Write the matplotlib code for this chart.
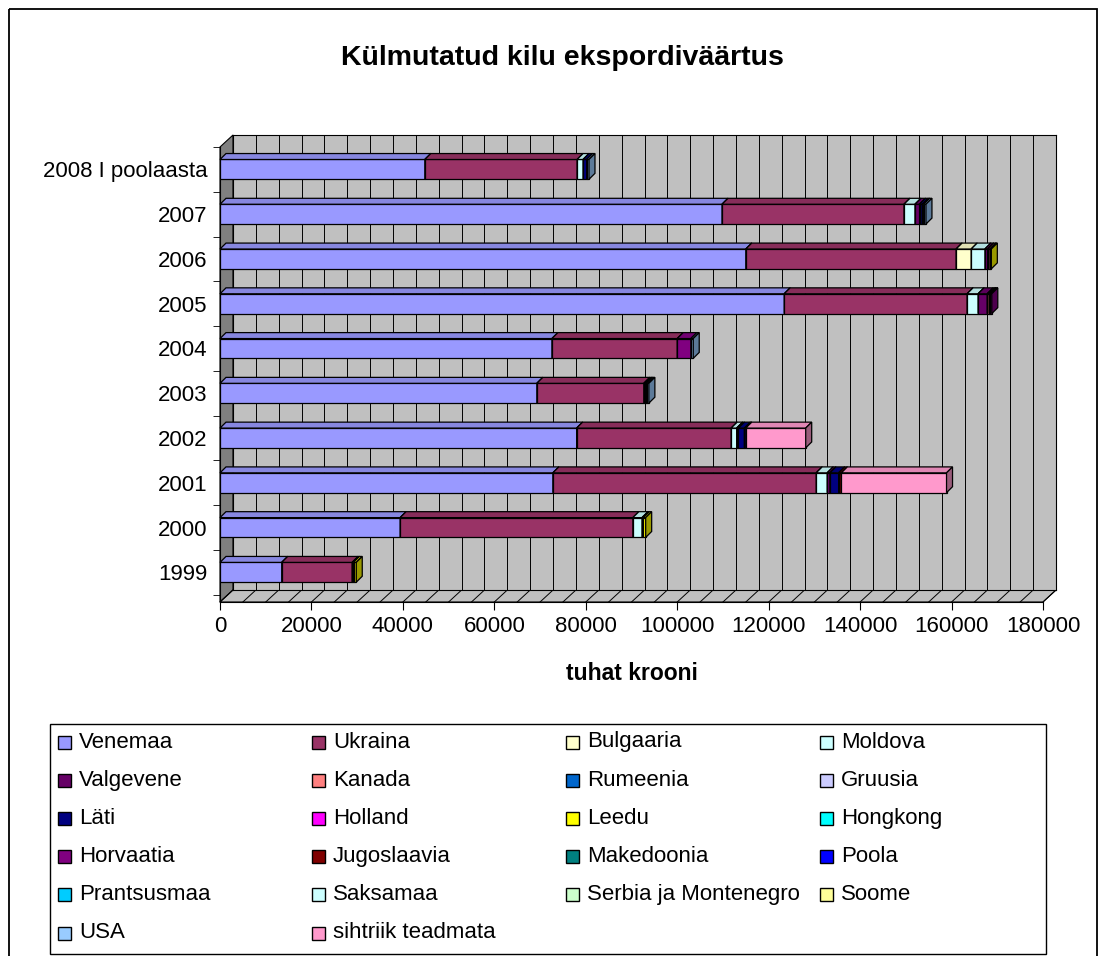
import matplotlib
matplotlib.use('Agg')
import matplotlib.pyplot as plt
from matplotlib.patches import Polygon, Rectangle
from matplotlib.lines import Line2D
import matplotlib.colors as mcolors
import numpy as np

plt.rcParams['font.family'] = ['Liberation Sans', 'DejaVu Sans']

# ---------------- data ----------------
categories = ['1999', '2000', '2001', '2002', '2003', '2004', '2005', '2006', '2007', '2008 I poolaasta']

countries = ['Venemaa', 'Ukraina', 'Bulgaaria', 'Moldova', 'Valgevene', 'Kanada', 'Rumeenia',
             'Gruusia', 'Läti', 'Holland', 'Leedu', 'Hongkong', 'Horvaatia', 'Jugoslaavia',
             'Makedoonia', 'Poola', 'Prantsusmaa', 'Saksamaa', 'Serbia ja Montenegro', 'Soome',
             'USA', 'sihtriik teadmata']

country_colors = ['#9999FF', '#993366', '#FFFFCC', '#CCFFFF', '#660066', '#FF8080', '#0066CC',
                  '#CCCCFF', '#000080', '#FF00FF', '#FFFF00', '#00FFFF', '#800080', '#800000',
                  '#008080', '#0000FF', '#00CCFF', '#CCFFFF', '#CCFFCC', '#FFFF99',
                  '#99CCFF', '#FF99CC']

Venemaa = [13500, 39400, 72800, 78000, 69300, 72600, 123400, 115000, 109800, 44800]
Ukraina = [15400, 50900, 57600, 33800, 23400, 27400, 40000, 46000, 39800, 33300]
Bulgaaria = [0, 0, 0, 0, 0, 0, 0, 3300, 0, 0]
Moldova = [0, 2000, 2400, 1200, 0, 0, 2400, 3000, 2400, 1300]
Valgevene = [300, 300, 600, 400, 0, 0, 2000, 600, 1000, 0]
Kanada = [0, 0, 0, 0, 0, 0, 400, 500, 0, 0]
Rumeenia = [0, 0, 0, 0, 0, 0, 0, 0, 0, 0]
Gruusia = [0, 0, 0, 0, 0, 0, 0, 0, 0, 0]
Lati = [0, 0, 1900, 1300, 400, 0, 300, 0, 600, 800]
Holland = [0, 0, 0, 0, 0, 0, 0, 0, 0, 0]
Leedu = [600, 500, 0, 0, 0, 0, 0, 300, 0, 0]
Hongkong = [0, 0, 0, 0, 0, 0, 0, 0, 0, 0]
Horvaatia = [0, 0, 0, 0, 0, 3000, 300, 0, 0, 0]
Jugoslaavia = [0, 0, 600, 0, 0, 0, 0, 0, 0, 0]
Makedoonia = [0, 0, 0, 0, 0, 0, 0, 0, 0, 0]
Poola = [0, 0, 0, 300, 300, 0, 0, 0, 300, 0]
Prantsusmaa = [0, 0, 0, 0, 0, 0, 0, 0, 0, 0]
Saksamaa = [0, 0, 0, 0, 0, 0, 0, 0, 0, 0]
Serbia = [0, 0, 0, 0, 0, 0, 0, 0, 0, 0]
Soome = [0, 0, 0, 0, 0, 0, 0, 0, 0, 0]
USA = [0, 0, 0, 0, 400, 500, 0, 0, 500, 500]
Sihtriik = [0, 0, 23000, 13100, 0, 0, 0, 0, 0, 0]

series_values = [Venemaa, Ukraina, Bulgaaria, Moldova, Valgevene, Kanada, Rumeenia, Gruusia,
                 Lati, Holland, Leedu, Hongkong, Horvaatia, Jugoslaavia, Makedoonia, Poola,
                 Prantsusmaa, Saksamaa, Serbia, Soome, USA, Sihtriik]

x_ticks = [0, 20000, 40000, 60000, 80000, 100000, 120000, 140000, 160000, 180000]

# ---------------- layout (pixels) ----------------
W, H = 1099, 956
FX0, FX1, FY0, FY1 = 220, 1043, 147, 602   # front plane
DX, DY = 13, 12                              # depth offset of back wall
BDX, BDY = 6, 6                              # bar depth offset
XMAX = 180000

def fr(x0, y0, x1, y1):
    return [x0 / W, 1 - y1 / H, (x1 - x0) / W, (y1 - y0) / H]

fig = plt.figure(figsize=(W / 100, H / 100), dpi=100)
fig.patch.set_facecolor('white')

# decoration axes in pixel coords
deco = fig.add_axes([0, 0, 1, 1], zorder=0)
deco.set_xlim(0, W)
deco.set_ylim(H, 0)
deco.axis('off')

# chart border
deco.add_patch(Rectangle((8.5, 8.5), 1088, 960, fill=False, ec='black', lw=1.3, clip_on=False))

# left wall
deco.add_patch(Polygon([(FX0, FY1), (FX0, FY0), (FX0 + DX, FY0 - DY), (FX0 + DX, FY1 - DY)],
                       closed=True, fc='#808080', ec='black', lw=0.8))
# floor
deco.add_patch(Polygon([(FX0, FY1), (FX1, FY1), (FX1 + DX, FY1 - DY), (FX0 + DX, FY1 - DY)],
                       closed=True, fc='#C0C0C0', ec='black', lw=0.8))
for xv in range(0, XMAX + 1, 5000):
    px = FX0 + xv * (FX1 - FX0) / XMAX
    deco.add_line(Line2D([px, px + DX], [FY1, FY1 - DY], color='black', lw=0.7))

# back wall axes
back = fig.add_axes(fr(FX0 + DX, FY0 - DY, FX1 + DX, FY1 - DY), zorder=1)
back.set_facecolor('#C0C0C0')
back.set_xlim(0, XMAX)
back.set_ylim(0, 1)
back.set_xticks(np.arange(0, XMAX + 1, 5000))
back.set_yticks([])
back.tick_params(axis='x', length=0, labelbottom=False)
back.grid(axis='x', color='black', lw=0.7)
for s in back.spines.values():
    s.set_color('black')
    s.set_linewidth(0.8)

# main (front) axes
ax = fig.add_axes(fr(FX0, FY0, FX1, FY1), zorder=2)
ax.patch.set_alpha(0)
n = len(categories)
pitch = 45.2
ylo = -(FY1 - 572) / pitch
yhi = (572 - FY0) / pitch
ax.set_xlim(0, XMAX)
ax.set_ylim(ylo, yhi)
for k in ['top', 'right']:
    ax.spines[k].set_visible(False)
ax.spines['left'].set_color('black')
ax.spines['bottom'].set_color('black')
ax.set_xticks(x_ticks)
ax.set_xticklabels([str(v) for v in x_ticks], fontsize=16)
ax.tick_params(axis='x', length=6, pad=4, color='black')
ypos = np.arange(n)
ax.set_yticks(ypos)
ax.set_yticklabels(categories, fontsize=16)
ax.tick_params(axis='y', which='major', length=0, pad=9)
ax.set_yticks(np.arange(n + 1) - 0.5, minor=True)
ax.tick_params(axis='y', which='minor', length=5, color='black')
ax.set_xlabel('tuhat krooni', fontsize=16.5, fontweight='bold', labelpad=18)

bar_h = 20 / pitch
ddx = BDX * XMAX / (FX1 - FX0)
ddy = BDY / pitch

def shade(c, f):
    r, g, b = mcolors.to_rgb(c)
    return (r * f, g * f, b * f)

lefts = np.zeros(n)
for k, (vals, col) in enumerate(zip(series_values, country_colors)):
    vals = np.array(vals, dtype=float)
    z = 3 + k * 0.02
    idx = np.nonzero(vals)[0]
    if len(idx):
        ax.barh(ypos[idx], vals[idx], left=lefts[idx], height=bar_h, color=col,
                edgecolor='black', lw=0.9, zorder=z)
        for i in idx:
            l = lefts[i]
            r = l + vals[i]
            t = ypos[i] + bar_h / 2
            b = ypos[i] - bar_h / 2
            ax.add_patch(Polygon([(l, t), (r, t), (r + ddx, t + ddy), (l + ddx, t + ddy)],
                                 closed=True, fc=shade(col, 0.88), ec='black', lw=0.9,
                                 zorder=z + 0.005, clip_on=False))
            ax.add_patch(Polygon([(r, b), (r, t), (r + ddx, t + ddy), (r + ddx, b + ddy)],
                                 closed=True, fc=shade(col, 0.6), ec='black', lw=0.9,
                                 zorder=z + 0.005, clip_on=False))
    lefts = lefts + vals

# title
fig.text(562 / W, 1 - 58 / H, 'Külmutatud kilu ekspordiväärtus', ha='center', va='center',
         fontsize=20.5, fontweight='bold')

# legend (row-wise, 4 columns) drawn in pixel coords
deco.add_patch(Rectangle((49.5, 723.5), 996, 230, fill=False, ec='black', lw=1.0))
col_x = [58, 312, 566, 820]
row_y0, row_dy = 742, 38.2
for j, (name, col) in enumerate(zip(countries, country_colors)):
    r, c = divmod(j, 4)
    mx = col_x[c]
    my = row_y0 + r * row_dy
    deco.add_patch(Rectangle((mx, my - 6.5), 13, 13, fc=col, ec='black', lw=1.0))
    deco.text(mx + 21, my, name, ha='left', va='center', fontsize=16)

fig.savefig('out.png', dpi=100)
